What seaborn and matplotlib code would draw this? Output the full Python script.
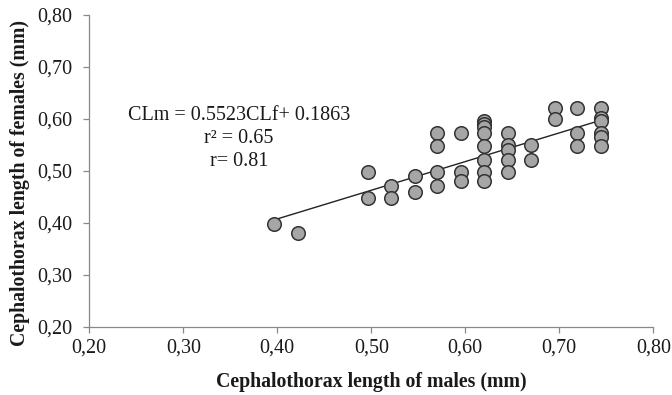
import matplotlib
matplotlib.use("Agg")
import matplotlib.pyplot as plt
import seaborn as sns
import numpy as np
import pandas as pd

# ---- data ----
males_cl = [0.397, 0.422,
            0.496, 0.496,
            0.521, 0.521,
            0.546, 0.546,
            0.570, 0.570, 0.570, 0.570,
            0.595, 0.595, 0.595,
            0.620, 0.620, 0.620, 0.620, 0.620, 0.620, 0.620, 0.620,
            0.645, 0.645, 0.645, 0.645, 0.645,
            0.670, 0.670,
            0.695, 0.695,
            0.719, 0.719, 0.719,
            0.744, 0.744, 0.744, 0.744, 0.744, 0.744]
females_cl = [0.397, 0.380,
              0.497, 0.447,
              0.471, 0.447,
              0.489, 0.459,
              0.572, 0.547, 0.497, 0.470,
              0.572, 0.497, 0.481,
              0.595, 0.590, 0.584, 0.572, 0.547, 0.521, 0.497, 0.481,
              0.572, 0.550, 0.540, 0.521, 0.497,
              0.550, 0.521,
              0.621, 0.600,
              0.621, 0.572, 0.547,
              0.621, 0.602, 0.595, 0.572, 0.565, 0.547]
slope = 0.5523
intercept = 0.1863
ticks = [0.20, 0.30, 0.40, 0.50, 0.60, 0.70, 0.80]
tick_labels = ["0,20", "0,30", "0,40", "0,50", "0,60", "0,70", "0,80"]
equation_text = "CLm = 0.5523CLf+ 0.1863\nr² = 0.65\nr= 0.81"
x_label = "Cephalothorax length of males (mm)"
y_label = "Cephalothorax length of females (mm)"

df = pd.DataFrame({"males": males_cl, "females": females_cl})
line_x = np.array([min(males_cl), max(males_cl)])
line_df = pd.DataFrame({"x": line_x, "y": slope * line_x + intercept})

sns.set_theme(style="white")
plt.rcParams["font.family"] = ["Liberation Serif", "DejaVu Serif"]

W, H = 672, 395
L, R, T, B = 89.3, 653.3, 15.0, 326.5
fig = plt.figure(figsize=(W / 100, H / 100), dpi=100)
ax = fig.add_axes([L / W, 1 - B / H, (R - L) / W, (B - T) / H])

sns.lineplot(data=line_df, x="x", y="y", ax=ax, color="#222222", linewidth=1.0, zorder=2)
sns.scatterplot(data=df, x="males", y="females", ax=ax, s=95, color="#a6a6a6",
                edgecolor="#333333", linewidth=1.1, zorder=3)

ax.set_xlim(0.20, 0.80)
ax.set_ylim(0.20, 0.80)
ax.set_xticks(ticks)
ax.set_xticklabels(tick_labels)
ax.set_yticks(ticks)
ax.set_yticklabels(tick_labels)
ax.tick_params(axis="both", which="both", direction="out", length=4.5, width=0.9,
               color="#888888", labelsize=14.5, labelcolor="#1a1a1a",
               bottom=True, left=True)
ax.tick_params(axis="x", pad=4)
ax.tick_params(axis="y", pad=8)

for side in ["top", "right"]:
    ax.spines[side].set_visible(False)
for side in ["left", "bottom"]:
    ax.spines[side].set_color("#888888")
    ax.spines[side].set_linewidth(0.9)

ax.set_xlabel(x_label, fontsize=14.3, fontweight="bold", color="#1a1a1a")
ax.set_ylabel(y_label, fontsize=14.3, fontweight="bold", color="#1a1a1a")
ax.xaxis.label.set_va("center")
ax.yaxis.label.set_va("center")
ax.xaxis.set_label_coords(0.5, (B - 382) / (B - T))
ax.yaxis.set_label_coords((20 - L) / (R - L), (B - 183) / (B - T))
ax.grid(False)

ax.text(0.3593, 0.562, equation_text, ha="center", va="center", multialignment="center",
        fontsize=14.5, color="#1a1a1a", linespacing=1.3)

fig.savefig("out.png", dpi=100)
